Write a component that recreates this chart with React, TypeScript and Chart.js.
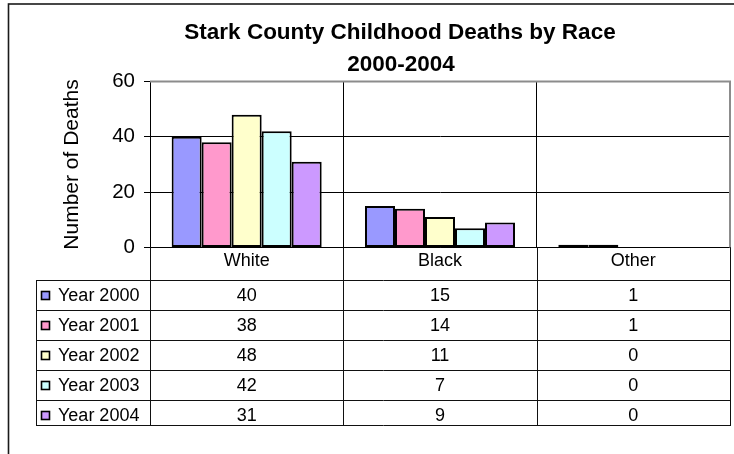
import React, { useEffect, useRef } from 'react';
import { Chart, registerables } from 'chart.js';

Chart.register(...registerables);

// ---- data ----
const categories = ['White', 'Black', 'Other'];
const seriesNames = ['Year 2000', 'Year 2001', 'Year 2002', 'Year 2003', 'Year 2004'];
const year2000 = [40, 15, 1];
const year2001 = [38, 14, 1];
const year2002 = [48, 11, 0];
const year2003 = [42, 7, 0];
const year2004 = [31, 9, 0];
const seriesValues = [year2000, year2001, year2002, year2003, year2004];
const seriesColors = ['#9999FF', '#FF99CC', '#FFFFCC', '#CCFFFF', '#CC99FF'];
const titleLines = ['Stark County Childhood Deaths by Race', '2000-2004'];
const yAxisTitle = 'Number of Deaths';
const yMin = 0;
const yMax = 60;
const yStep = 20;

const FONT = '"Liberation Sans", Arial, Helvetica, sans-serif';

// ---- layout constants ----
const W = 734;
const H = 454;
const PLOT_LEFT = 150;
const PLOT_RIGHT = 730;
const PLOT_TOP = 81.5;
const PLOT_BOTTOM = 247.5;
const TABLE_LEFT = 36;
const TABLE_TOP = 280;
const ROW_H = 30;
const TABLE_BOTTOM = 425;

const decorPlugin = {
  id: 'decor',
  beforeDraw(chart: any) {
    const ctx = chart.ctx;
    ctx.save();
    ctx.fillStyle = '#ffffff';
    ctx.fillRect(0, 0, W, H);
    ctx.restore();
  },
  afterDraw(chart: any) {
    const ctx = chart.ctx;
    const area = chart.chartArea;
    const xs = chart.scales.x;
    const n = categories.length;
    const catW = (area.right - area.left) / n;

    ctx.save();
    // title
    ctx.fillStyle = '#000';
    ctx.font = `bold 22.5px ${FONT}`;
    ctx.textAlign = 'center';
    ctx.textBaseline = 'middle';
    ctx.fillText(titleLines[0], 400, 33);
    ctx.fillText(titleLines[1], 401, 65);

    // plot area border (top and right) in gray
    ctx.strokeStyle = '#8c8c8c';
    ctx.lineWidth = 2;
    ctx.beginPath();
    ctx.moveTo(area.left, area.top);
    ctx.lineTo(area.right, area.top);
    ctx.lineTo(area.right, area.bottom);
    ctx.stroke();

    // data table lines
    ctx.strokeStyle = '#111';
    ctx.lineWidth = 1;
    ctx.beginPath();
    for (let r = 0; r < seriesNames.length; r++) {
      const y = TABLE_TOP + r * ROW_H + 0.5;
      ctx.moveTo(TABLE_LEFT, y);
      ctx.lineTo(area.right + 1, y);
    }
    ctx.moveTo(TABLE_LEFT, TABLE_BOTTOM + 0.5);
    ctx.lineTo(area.right + 1, TABLE_BOTTOM + 0.5);
    // left border of table
    ctx.moveTo(TABLE_LEFT + 0.5, TABLE_TOP);
    ctx.lineTo(TABLE_LEFT + 0.5, TABLE_BOTTOM + 1);
    // category separators
    for (let i = 0; i <= n; i++) {
      const x = Math.round(area.left + i * catW) + 0.5;
      ctx.moveTo(x, area.bottom);
      ctx.lineTo(x, TABLE_BOTTOM + 1);
    }
    ctx.stroke();

    // legend keys and names
    ctx.font = `18px ${FONT}`;
    ctx.textBaseline = 'middle';
    for (let r = 0; r < seriesNames.length; r++) {
      const cy = TABLE_TOP + r * ROW_H + 16;
      ctx.fillStyle = seriesColors[r];
      ctx.fillRect(41.5, cy - 4.5, 8, 8);
      ctx.strokeStyle = '#000';
      ctx.lineWidth = 1.6;
      ctx.strokeRect(41.5, cy - 4.5, 8, 8);
      ctx.fillStyle = '#000';
      ctx.textAlign = 'left';
      ctx.fillText(seriesNames[r], 58, cy);
      ctx.textAlign = 'center';
      for (let i = 0; i < n; i++) {
        const cx = xs.getPixelForValue(i);
        ctx.fillText(String(seriesValues[r][i]), cx, cy);
      }
    }

    // outer frame
    ctx.strokeStyle = '#1a1a1a';
    ctx.lineWidth = 1.6;
    ctx.strokeRect(8.5, 4, W + 20, H + 20);
    ctx.restore();
  },
};

export default function App() {
  const ref = useRef<HTMLCanvasElement | null>(null);

  useEffect(() => {
    if (!ref.current) return;
    const chart = new Chart(ref.current, {
      type: 'bar',
      data: {
        labels: categories,
        datasets: seriesNames.map((name, i) => ({
          label: name,
          data: seriesValues[i],
          backgroundColor: seriesColors[i],
          borderColor: '#000000',
          borderWidth: 2,
          borderSkipped: false,
          categoryPercentage: 0.776,
          barPercentage: 1,
        })),
      },
      options: {
        responsive: false,
        animation: false,
        devicePixelRatio: 1,
        layout: {
          padding: { top: PLOT_TOP, left: 0, right: W - PLOT_RIGHT, bottom: 0 },
        },
        plugins: {
          legend: { display: false },
          title: { display: false },
          tooltip: { enabled: false },
        },
        scales: {
          x: {
            type: 'category',
            afterFit: (scale: any) => {
              scale.height = H - PLOT_BOTTOM;
            },
            grid: {
              display: true,
              offset: true,
              color: '#000000',
              lineWidth: 1,
              drawTicks: false,
            },
            border: { display: true, color: '#000000', width: 1 },
            ticks: {
              color: '#000000',
              font: { family: FONT, size: 18 },
              padding: 3,
              maxRotation: 0,
              autoSkip: false,
            },
          },
          y: {
            min: yMin,
            max: yMax,
            afterFit: (scale: any) => {
              scale.width = PLOT_LEFT;
            },
            ticks: {
              stepSize: yStep,
              color: '#000000',
              font: { family: FONT, size: 20.5 },
              padding: 9,
            },
            grid: {
              color: '#000000',
              lineWidth: 1,
              drawTicks: true,
              tickLength: 6,
            },
            border: { display: true, color: '#000000', width: 1 },
            title: {
              display: true,
              text: yAxisTitle,
              color: '#000000',
              font: { family: FONT, size: 21 },
              padding: { top: 60, bottom: 0 },
            },
          },
        },
      },
      plugins: [decorPlugin],
    });
    return () => chart.destroy();
  }, []);

  return (
    <div style={{ position: 'fixed', left: 0, top: 0, width: W, height: H, background: '#fff' }}>
      <canvas ref={ref} width={W} height={H} style={{ display: 'block', width: W, height: H }} />
    </div>
  );
}
